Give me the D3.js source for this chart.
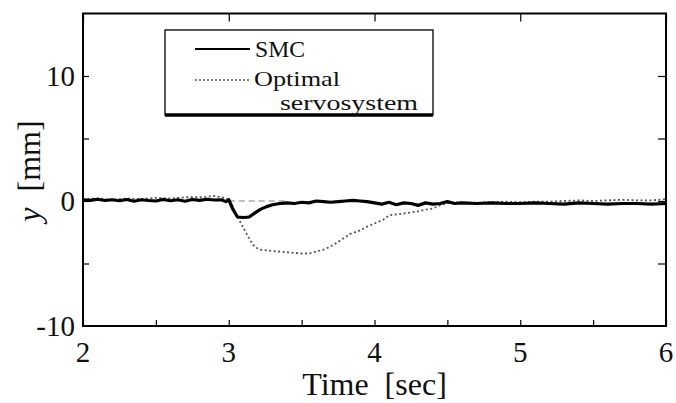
<!DOCTYPE html>
<html>
<head>
<meta charset="utf-8">
<script src="https://cdn.jsdelivr.net/npm/d3@7"></script>
<style>
  html, body { margin: 0; padding: 0; background: #fff; }
  svg { display: block; }
  svg text { font-family: "Liberation Serif", "Times New Roman", serif; fill: #111; }
</style>
</head>
<body>
<svg id="chart" width="676" height="403"></svg>
<script>
// ---- data ----
const xTicks = [2, 3, 4, 5, 6];
const yTicks = [-10, 0, 10];
const seriesNames = ["SMC", "Optimal", "servosystem"];

const smcTime = [2.00,2.05,2.10,2.15,2.20,2.25,2.30,2.35,2.40,2.45,2.50,2.55,2.60,2.65,2.70,2.75,2.80,2.85,2.90,2.95,2.98,3.00,
  3.03,3.06,3.10,3.14,3.18,3.22,3.26,3.30,3.35,3.40,3.45,3.50,3.55,3.60,3.65,3.70,3.75,3.80,3.85,3.90,3.95,
  4.00,4.05,4.10,4.15,4.20,4.25,4.30,4.35,4.40,4.45,4.50,4.55,4.60,4.70,4.80,4.90,5.00,5.10,5.20,5.30,5.40,5.50,5.60,5.70,5.80,5.90,6.00];
const smcValue = [0.10,0.05,0.14,0.04,0.10,0.02,0.12,-0.02,0.10,0.04,0.00,0.12,0.02,0.10,-0.02,0.12,0.05,0.14,0.08,0.10,-0.05,0.10,
  -0.70,-1.28,-1.32,-1.28,-0.95,-0.65,-0.45,-0.30,-0.20,-0.15,-0.20,-0.10,-0.15,0.00,-0.05,-0.10,-0.05,0.00,0.05,0.00,-0.05,
  -0.15,-0.25,-0.10,-0.30,-0.15,-0.20,-0.35,-0.15,-0.25,-0.20,-0.05,-0.20,-0.15,-0.20,-0.15,-0.20,-0.20,-0.15,-0.20,-0.25,-0.15,-0.20,-0.25,-0.20,-0.20,-0.25,-0.20];

const optTime = [2.00,2.10,2.20,2.30,2.40,2.50,2.60,2.70,2.80,2.90,2.95,3.00,
  3.03,3.06,3.10,3.15,3.18,3.22,3.30,3.40,3.50,3.55,3.60,3.66,3.72,3.78,3.83,3.90,3.95,
  4.00,4.06,4.10,4.20,4.29,4.35,4.40,4.45,4.50,4.60,4.70,4.80,4.90,5.00,5.10,5.20,5.30,5.40,5.50,5.60,5.70,5.80,5.90,6.00];
const optValue = [0.15,0.20,0.10,0.20,0.15,0.25,0.20,0.30,0.30,0.40,0.30,0.15,
  -0.50,-1.25,-2.15,-3.20,-3.70,-3.90,-4.00,-4.10,-4.20,-4.20,-4.05,-3.85,-3.50,-3.05,-2.65,-2.35,-2.05,
  -1.80,-1.50,-1.15,-1.00,-0.85,-0.70,-0.60,-0.35,-0.15,-0.10,-0.15,-0.10,-0.05,-0.10,-0.05,-0.05,0.00,0.05,0.00,0.05,0.10,0.05,0.05,0.15];

const refTime = [3.00, 3.40];
const refValue = [0, 0];

// ---- layout ----
const svg = d3.select("#chart");
const x = d3.scaleLinear().domain([2, 6]).range([83, 666]);
const y = d3.scaleLinear().domain([-10, 15]).range([326, 13.5]);

svg.append("clipPath").attr("id", "plotclip")
  .append("rect").attr("x", x(2)).attr("y", y(15)).attr("width", x(6) - x(2)).attr("height", y(-10) - y(15));

const plot = svg.append("g").attr("clip-path", "url(#plotclip)");
const line = d3.line().x(d => x(d[0])).y(d => y(d[1]));

// reference zero (faint dashed)
plot.append("path")
  .datum(refTime.map((t, i) => [t, refValue[i]]))
  .attr("d", line).attr("fill", "none")
  .attr("stroke", "#aaa").attr("stroke-width", 1.5).attr("stroke-dasharray", "6,4");

// optimal servosystem (dotted gray)
plot.append("path")
  .datum(optTime.map((t, i) => [t, optValue[i]]))
  .attr("d", line).attr("fill", "none")
  .attr("stroke", "#555").attr("stroke-width", 1.8).attr("stroke-dasharray", "2,2.5");

// SMC (solid black)
plot.append("path")
  .datum(smcTime.map((t, i) => [t, smcValue[i]]))
  .attr("d", line).attr("fill", "none")
  .attr("stroke", "#000").attr("stroke-width", 3.2).attr("stroke-linejoin", "round");

// ---- frame & ticks ----
svg.append("rect")
  .attr("x", x(2)).attr("y", y(15)).attr("width", x(6) - x(2)).attr("height", y(-10) - y(15))
  .attr("fill", "none").attr("stroke", "#000").attr("stroke-width", 2);

const styleTicks = g => {
  g.select(".domain").remove();
  g.selectAll("line").attr("stroke", "#000").attr("stroke-width", 1.2);
};

svg.append("g").attr("transform", `translate(0,${y(-10)})`)
  .call(d3.axisBottom(x).tickValues(d3.range(2, 6.01, 0.5)).tickSize(-6).tickFormat("")).call(styleTicks);
svg.append("g").attr("transform", `translate(0,${y(15)})`)
  .call(d3.axisTop(x).tickValues(xTicks).tickSize(-8).tickFormat("")).call(styleTicks);
svg.append("g").attr("transform", `translate(${x(2)},0)`)
  .call(d3.axisLeft(y).tickValues([-5, 0, 5, 10]).tickSize(-6).tickFormat("")).call(styleTicks);
svg.append("g").attr("transform", `translate(${x(6)},0)`)
  .call(d3.axisRight(y).tickValues([-5, 0, 5, 10]).tickSize(-8).tickFormat("")).call(styleTicks);

// tick labels
svg.append("g").selectAll("text").data(xTicks).join("text")
  .attr("x", d => x(d)).attr("y", 362)
  .attr("text-anchor", "middle").attr("font-size", 29)
  .text(d => d);

svg.append("g").selectAll("text").data(yTicks).join("text")
  .attr("x", 75).attr("y", d => y(d) + 10)
  .attr("text-anchor", "end").attr("font-size", 29)
  .text(d => d);

// axis titles
svg.append("text")
  .attr("x", (x(2) + x(6)) / 2).attr("y", 395)
  .attr("text-anchor", "middle").attr("font-size", 32)
  .attr("style", "white-space:pre")
  .text("Time  [sec]");

const yt = svg.append("text")
  .attr("transform", "translate(40,171) rotate(-90)")
  .attr("text-anchor", "middle").attr("font-size", 32)
  .attr("style", "white-space:pre");
yt.append("tspan").attr("font-style", "italic").text("y");
yt.append("tspan").text("  [mm]");

// ---- legend ----
const lg = svg.append("g");
lg.append("rect").attr("x", 165).attr("y", 30).attr("width", 268).attr("height", 85)
  .attr("fill", "#fff").attr("stroke", "#000").attr("stroke-width", 1.3);
lg.append("line").attr("x1", 165).attr("x2", 433).attr("y1", 115).attr("y2", 115)
  .attr("stroke", "#000").attr("stroke-width", 3.5);
lg.append("line").attr("x1", 195).attr("x2", 250).attr("y1", 49).attr("y2", 49)
  .attr("stroke", "#000").attr("stroke-width", 2);
lg.append("line").attr("x1", 195).attr("x2", 250).attr("y1", 80).attr("y2", 80)
  .attr("stroke", "#555").attr("stroke-width", 1.5).attr("stroke-dasharray", "2,2");
lg.append("text").attr("x", 255).attr("y", 57).attr("font-size", 23)
  .attr("textLength", 50).attr("lengthAdjust", "spacingAndGlyphs").text(seriesNames[0]);
lg.append("text").attr("x", 254).attr("y", 86).attr("font-size", 22)
  .attr("textLength", 86).attr("lengthAdjust", "spacingAndGlyphs").text(seriesNames[1]);
lg.append("text").attr("x", 280).attr("y", 110).attr("font-size", 22)
  .attr("textLength", 138).attr("lengthAdjust", "spacingAndGlyphs").text(seriesNames[2]);
</script>
</body>
</html>
